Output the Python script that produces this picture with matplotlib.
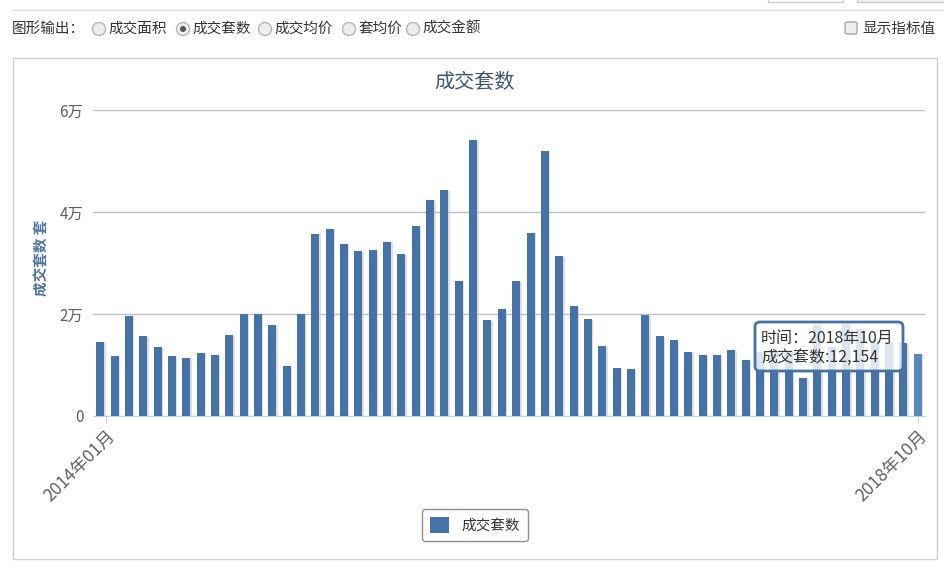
import matplotlib.pyplot as plt
import numpy as np
from matplotlib.patches import Circle, FancyBboxPatch, Rectangle

plt.rcParams["font.family"] = ["Noto Sans CJK SC", "DejaVu Sans"]

# monthly deals, 2014-01 .. 2018-10
months = [f"{y}年{m:02d}月" for y in range(2014, 2019) for m in range(1, 13)][:58]
deals = [
    14450, 11700, 19550, 15630, 13470, 11700, 11440, 12420, 11960, 15880,
    20070, 20070, 17840, 9740, 20000, 35750, 36730, 33730, 32290, 32550,
    34180, 31760, 37190, 42350, 44310, 26470, 54120, 18820, 20980, 26470,
    35950, 51900, 31310, 21500, 19020, 13660, 9480, 9220, 19800, 15630,
    14900, 12480, 12000, 12000, 12940, 10980, 12500, 13000, 12800, 7400,
    17800, 13500, 18000, 17000, 15000, 14500, 14300, 12154,
]
y_ticks = [0, 20000, 40000, 60000]
y_tick_labels = ["0", "2万", "4万", "6万"]
options = ["成交面积", "成交套数", "成交均价", "套均价", "成交金额"]
option_x = [99, 183, 265, 349, 413]
selected = "成交套数"

W, H = 944, 575
BAR = "#4572A7"

fig = plt.figure(figsize=(W / 100, H / 100), dpi=100)
fig.patch.set_facecolor("white")


def pixel_axes():
    a = fig.add_axes([0, 0, 1, 1])
    a.set_xlim(0, W)
    a.set_ylim(H, 0)
    a.set_facecolor("none")
    a.axis("off")
    return a


# page furniture behind the chart
deco = pixel_axes()
deco.plot([12, W], [10, 10], color="#dddddd", lw=1)
deco.add_patch(Rectangle((768, -2), 75, 4, fc="white", ec="#cccccc", lw=1))
deco.add_patch(Rectangle((857, -2), 90, 4, fc="#f0f0f0", ec="#cccccc", lw=1))

deco.text(12, 29, "图形输出：", fontsize=10.5, color="#333333", va="center")
for name, cx in zip(options, option_x):
    deco.add_patch(Circle((cx, 29), 6.5, fc="#eeeeee", ec="#b5b5b5", lw=1))
    if name == selected:
        deco.add_patch(Circle((cx, 29), 3, fc="#555555", ec="none"))
    deco.text(cx + 9, 29, name, fontsize=10.5, color="#333333", va="center")

deco.add_patch(FancyBboxPatch((845, 22), 12, 12, boxstyle="round,pad=0,rounding_size=2",
                              fc="#eeeeee", ec="#a8a8a8", lw=1))
deco.text(862, 29, "显示指标值", fontsize=10.5, color="#333333", va="center")

deco.add_patch(Rectangle((13, 58), 924, 501, fc="white", ec="#d0d0d0", lw=1))
deco.text(475, 83, "成交套数", fontsize=14.5, color="#3e576f", ha="center", va="center")
deco.text(41, 258, "成交套数 套", fontsize=10.5, color="#4d759e", fontweight="bold",
          rotation=90, ha="center", va="center")

# bar chart
ax = fig.add_axes([93 / W, (H - 416) / H, (925 - 93) / W, (416 - 110) / H])
ax.set_facecolor("none")
x = np.arange(len(deals))
ax.bar(x + 0.1, np.array(deals) - 150, width=0.56, color="#c8c8c8", alpha=0.6, zorder=2)
colors = [BAR] * (len(deals) - 1) + ["#5b87bf"]
bars = ax.bar(x, deals, width=0.56, color=colors, zorder=3, label="成交套数")
ax.set_xlim(-0.5, len(deals) - 0.5)
ax.set_ylim(0, 60000)
ax.set_yticks(y_ticks)
ax.set_yticklabels(y_tick_labels, fontsize=11, color="#606060")
ax.yaxis.grid(True, color="#c0c0c0", lw=1, zorder=0)
ax.tick_params(axis="y", length=0, pad=7)
ax.set_xticks([0.4, len(deals) - 1])
ax.set_xticklabels([months[0], months[-1]], rotation=45, ha="right",
                   rotation_mode="anchor", fontsize=12.5, color="#606060")
ax.tick_params(axis="x", length=5, color="#c0d0e0", pad=3)
for s in ["left", "right", "top"]:
    ax.spines[s].set_visible(False)
ax.spines["bottom"].set_color("#c0d0e0")

leg = fig.legend(handles=[bars], labels=["成交套数"], loc="center",
                 bbox_to_anchor=(475 / W, (H - 525) / H), fontsize=10.5,
                 handlelength=1.3, handleheight=1.3, borderpad=0.55, fancybox=True,
                 edgecolor="#909090", framealpha=1)
for t in leg.get_texts():
    t.set_color("#333333")

# hover tooltip on top of the bars
over = pixel_axes()
over.add_patch(FancyBboxPatch((755, 322), 148, 49, boxstyle="round,pad=0,rounding_size=5",
                              fc=(1, 1, 1, 0.82), ec="#4572A7", lw=2))
over.text(761, 338, f"时间：{months[-1]}", fontsize=11.5, color="#333333", va="center")
over.text(761, 357, f"成交套数:{deals[-1]:,}", fontsize=11.5, color="#333333", va="center")

fig.savefig("out.png", dpi=100)
